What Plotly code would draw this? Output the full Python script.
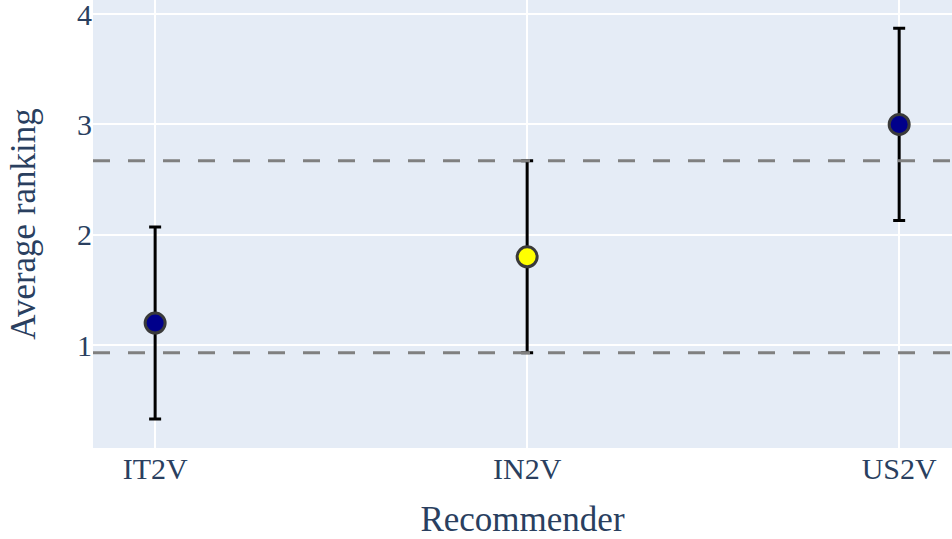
import plotly.graph_objects as go

recommenders = ["IT2V", "IN2V", "US2V"]
avg_ranking = [1.2, 1.8, 3.0]
err = [0.87, 0.87, 0.87]
colors = ["#00008b", "#ffff00", "#00008b"]
ref_lines = [1.8 - 0.87, 1.8 + 0.87]

fig = go.Figure()
fig.add_trace(go.Scatter(
    x=recommenders, y=avg_ranking, mode="markers",
    marker=dict(size=20, color=colors, line=dict(color="#3a3a3a", width=3)),
    error_y=dict(type="data", array=err, visible=True, color="black", thickness=3, width=6),
    showlegend=False,
))
for yv in ref_lines:
    fig.add_hline(y=yv, line=dict(color="gray", width=3, dash="17px,18px"))

font = "Liberation Serif, Times New Roman, serif"
fig.update_layout(
    width=952, height=539,
    margin=dict(l=93, r=0, t=0, b=91),
    template="plotly",
    font=dict(family=font, size=30, color="#2a3f5f"),
    xaxis=dict(title=dict(text="Recommender", font=dict(size=35), standoff=30),
               range=[-0.167, 2.142],
               tickfont=dict(size=30), automargin=False, gridwidth=2),
    yaxis=dict(title=dict(text="Average ranking", font=dict(size=35), standoff=30),
               range=[0.068, 4.127], ticklabeloverflow="allow",
               tickvals=[1, 2, 3, 4], tickfont=dict(size=30), automargin=False, gridwidth=2),
)
fig.write_html("out.html", config={"displayModeBar": False},
               post_script="document.body.style.margin='0px';")
